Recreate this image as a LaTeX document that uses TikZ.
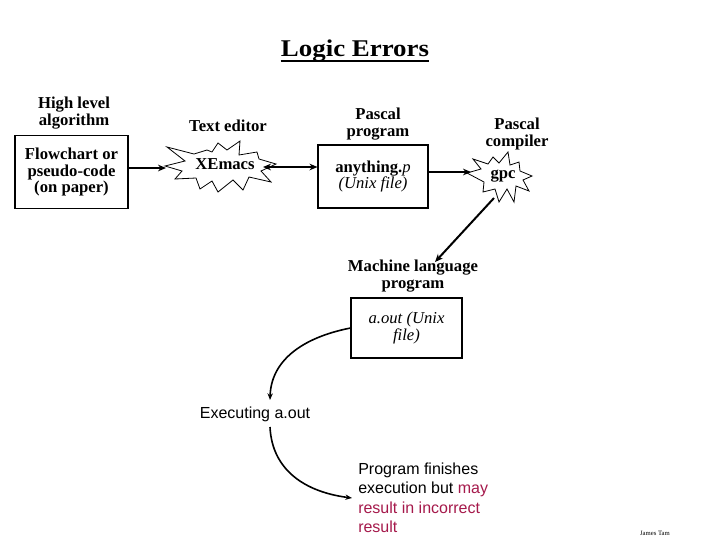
\documentclass[tikz,border=0pt]{standalone}
\usepackage{fontspec}
\setmainfont{Liberation Serif}
\setsansfont{Liberation Sans}
\usetikzlibrary{arrows.meta}
\definecolor{errred}{RGB}{165,25,75}
\tikzset{
  lbl/.style={font=\fontsize{12.5}{12.5}\selectfont\bfseries, align=center, inner sep=0pt},
  burst/.style={draw, line width=0.6pt, line join=miter},
  burstlbl/.style={inner sep=0pt, font=\fontsize{12.5}{12.5}\selectfont\bfseries},
  arr/.style={line width=1.5pt, -{Stealth[length=6pt,width=5pt]}},
  darr/.style={line width=1.5pt, {Stealth[length=6pt,width=5pt]}-{Stealth[length=6pt,width=5pt]}},
  carr/.style={line width=1.2pt, -{Stealth[length=5pt,width=4pt]}},
  sans/.style={font=\sffamily\fontsize{12}{14.3}\selectfont, align=left, inner sep=0pt}
}
\begin{document}
\begin{tikzpicture}[x=0.75pt,y=-0.75pt]
\useasboundingbox (0,0) rectangle (720,540);
% title
\node[inner sep=0pt, anchor=base, font=\fontsize{18}{18}\selectfont\bfseries] (title) at (355,56.5) {\scalebox{1.12}[1]{Logic Errors}};
\draw[line width=1.5pt] ([yshift=-3.5pt]title.base west) -- ([yshift=-3.5pt]title.base east);
% step 1
\node[lbl] (hl) at (74,113) {High level\\algorithm};
\node[draw, line width=0.8pt, minimum width=113*0.75pt, minimum height=73*0.75pt, lbl] (b1) at (71.5,172) {Flowchart or\\pseudo-code\\(on paper)};
% step 2
\node[lbl] (te) at (228,126) {Text editor};
\draw[burst] (165,166) -- (185,161) -- (167,147) -- (194,154) -- (207,150) -- (212,152) -- (218,143) -- (227,150) -- (240,141) -- (239,155) -- (257,152) -- (259,159) -- (276,164) -- (261,171) -- (271,182) -- (249,177) -- (243,190) -- (233,180) -- (218,192) -- (212,181) -- (200,189) -- (196,178) -- (175,179) -- (182,171) -- cycle;
\node[burstlbl] (xe) at (225,164) {XEmacs};
% step 3
\node[lbl] (pp) at (378,124) {Pascal\\program};
\node[draw, line width=0.8pt, minimum width=110*0.75pt, minimum height=63*0.75pt, inner sep=0pt, align=center, font=\fontsize{12.5}{12.5}\selectfont] (b2) at (373,176.5) {\textbf{anything.}\textit{p}\\\textit{(Unix file)}};
% step 4
\node[lbl] (pc) at (517,134) {Pascal\\compiler};
\draw[burst] (467,173) -- (481,169) -- (473,159) -- (488,164) -- (493,157) -- (499,163) -- (508,152) -- (510,165) -- (519,162) -- (520,171) -- (532,176) -- (523,180) -- (529,191) -- (516,186) -- (514,202) -- (507,189) -- (499,202) -- (495,189) -- (483,192) -- (484,182) -- cycle;
\node[burstlbl] (gpc) at (503,176) {gpc};
% step 5
\node[lbl] (ml) at (413,276) {Machine language\\program};
\node[draw, line width=0.8pt, minimum width=111*0.75pt, minimum height=60*0.75pt, inner sep=0pt, align=center, font=\fontsize{12.5}{12.5}\selectfont\itshape] (b3) at (406.5,328) {a.out (Unix\\file)};
% execution
\node[sans] (ex) at (255,414) {Executing a.out};
\node[sans, anchor=north west] (res) at (358,463) {Program finishes\\execution but \textcolor{errred}{may}\\\textcolor{errred}{result in incorrect}\\\textcolor{errred}{result}};
\node[inner sep=0pt, font=\fontsize{5}{5}\selectfont] (author) at (655,533) {James Tam};
% connectors
\coordinate (xein) at (166,168);
\coordinate (xeout) at (263,167);
\coordinate (gpcin) at (471,172);
\coordinate (gpcout) at (494,198);
\coordinate (mlin) at (435,262);
\coordinate (exin) at (270,400);
\coordinate (exout) at (270,427);
\coordinate (resin) at (352,498);
\draw[arr] (b1.east |- xein) -- (xein);
\draw[darr] (xeout) -- (b2.west |- xeout);
\draw[arr] (b2.east |- gpcin) -- (gpcin);
\draw[arr] (gpcout) -- (mlin);
\draw[carr] (b3.west) .. controls (300,338) and (271,362) .. (exin);
\draw[carr] (exout) .. controls (272,470) and (305,492) .. (resin);
\end{tikzpicture}
\end{document}
